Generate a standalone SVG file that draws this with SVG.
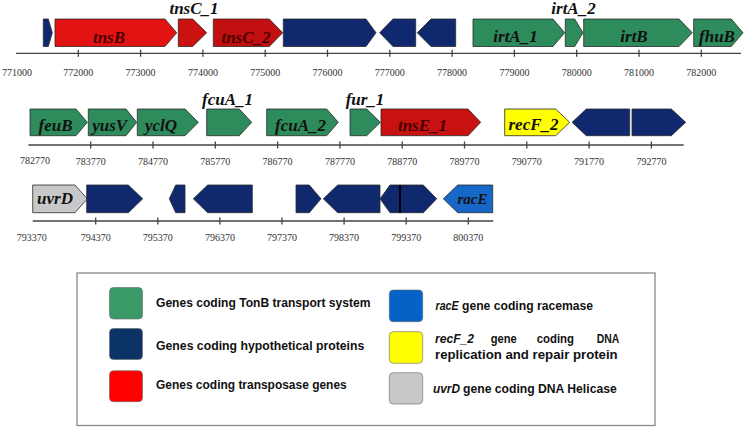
<svg xmlns="http://www.w3.org/2000/svg" width="746" height="428" viewBox="0 0 746 428">
<style>
.g{stroke:#2a2a2a;stroke-width:0.8}
.gr{fill:#2e8b5c}
.nv{fill:#10296e}
.lbl{font-family:"Liberation Serif",serif;font-weight:bold;font-style:italic;font-size:17px;text-anchor:middle;fill:#111}
.rl{fill:#4a0000}
.ax{stroke:#444;stroke-width:1.3;fill:none}
.tk{font-family:"Liberation Serif",serif;font-size:10px;fill:#333;text-anchor:middle}
.lg{font-family:"Liberation Sans",sans-serif;font-weight:bold;font-size:13.5px;fill:#111}
.it{font-style:italic}
.sw{stroke:#666;stroke-width:0.6}
</style>
<rect width="746" height="428" fill="#fff"/>

<g id="axes">
<path class="ax" d="M16,53.3H741M28.4,145H683.7M32.7,221H493.3"/>
<path class="ax" d="M78.3,49.8V56.8M140.6,49.8V56.8M202.9,49.8V56.8M265.2,49.8V56.8M327.5,49.8V56.8M389.8,49.8V56.8M452.1,49.8V56.8M514.4,49.8V56.8M576.7,49.8V56.8M639,49.8V56.8M701.3,49.8V56.8"/>
<path class="ax" d="M90.7,141.5V148.5M153,141.5V148.5M215.3,141.5V148.5M277.6,141.5V148.5M339.9,141.5V148.5M402.2,141.5V148.5M464.5,141.5V148.5M526.8,141.5V148.5M589.1,141.5V148.5M651.4,141.5V148.5"/>
<path class="ax" d="M95.7,217.5V224.5M157.8,217.5V224.5M219.9,217.5V224.5M282,217.5V224.5M344.1,217.5V224.5M406.2,217.5V224.5M468.3,217.5V224.5"/>
<g class="tk">
<text x="17" y="75.5">771000</text><text x="78.3" y="75.5">772000</text><text x="140.6" y="75.5">773000</text><text x="202.9" y="75.5">774000</text><text x="265.2" y="75.5">775000</text><text x="327.5" y="75.5">776000</text><text x="389.8" y="75.5">777000</text><text x="452.1" y="75.5">778000</text><text x="514.4" y="75.5">779000</text><text x="576.7" y="75.5">780000</text><text x="639" y="75.5">781000</text><text x="701.3" y="75.5">782000</text>
<text x="35" y="164">782770</text><text x="90.7" y="165">783770</text><text x="153" y="165">784770</text><text x="215.3" y="165">785770</text><text x="277.6" y="165">786770</text><text x="339.9" y="165">787770</text><text x="402.2" y="165">788770</text><text x="464.5" y="165">789770</text><text x="526.8" y="165">790770</text><text x="589.1" y="165">791770</text><text x="651.4" y="165">792770</text>
<text x="31.7" y="241">793370</text><text x="95.7" y="241">794370</text><text x="157.8" y="241">795370</text><text x="219.9" y="241">796370</text><text x="282" y="241">797370</text><text x="344.1" y="241">798370</text><text x="406.2" y="241">799370</text><text x="468.3" y="241">800370</text>
</g>
</g>

<!-- Row 1 -->
<g id="r1_h1"><polygon class="g nv" points="43.3,19 48.3,19 52.3,32.75 48.3,46.5 43.3,46.5"/></g>
<g id="tnsB"><polygon class="g" fill="#e31313" points="55,19 165,19 176.7,32.75 165,46.5 55,46.5"/><text class="lbl rl" x="109" y="42.5">tnsB</text></g>
<g id="tnsC_1"><polygon class="g" fill="#cc1111" points="178.3,19 192.7,19 206.7,32.75 192.7,46.5 178.3,46.5"/><text class="lbl" x="194" y="14">tnsC_1</text></g>
<g id="tnsC_2"><polygon class="g" fill="#c20f0f" points="213.3,19 269.3,19 282.7,32.75 269.3,46.5 213.3,46.5"/><text class="lbl rl" x="246" y="42.5">tnsC_2</text></g>
<g id="r1_h2"><polygon class="g nv" points="283.3,19 366,19 376,32.75 366,46.5 283.3,46.5"/></g>
<g id="r1_h3"><polygon class="g nv" points="379.7,32.75 393,19 415.7,19 415.7,46.5 393,46.5"/></g>
<g id="r1_h4"><polygon class="g nv" points="417.3,32.75 431,19 455.7,19 455.7,46.5 431,46.5"/></g>
<g id="irtA_1"><polygon class="g gr" points="473,19 553,19 564.7,32.75 553,46.5 473,46.5"/><text class="lbl" x="515.5" y="42">irtA_1</text></g>
<g id="irtA_2"><polygon class="g gr" points="565.3,19 574.7,19 583,32.75 574.7,46.5 565.3,46.5"/><text class="lbl" x="573.5" y="14">irtA_2</text></g>
<g id="irtB"><polygon class="g gr" points="583.7,19 679,19 692.3,32.75 679,46.5 583.7,46.5"/><text class="lbl" x="634" y="42">irtB</text></g>
<g id="fhuB"><polygon class="g gr" points="693.7,19 731.3,19 743,32.75 731.3,46.5 693.7,46.5"/><text class="lbl" x="717" y="42">fhuB</text></g>

<!-- Row 2 -->
<g id="feuB"><polygon class="g gr" points="30,109 76,109 87.3,122.35 76,135.7 30,135.7"/><text class="lbl" x="55.5" y="130.5">feuB</text></g>
<g id="yusV"><polygon class="g gr" points="88.3,109 126,109 136.7,122.35 126,135.7 88.3,135.7"/><text class="lbl" x="109.7" y="130.5">yusV</text></g>
<g id="yclQ"><polygon class="g gr" points="137.3,109 185,109 198.3,122.35 185,135.7 137.3,135.7"/><text class="lbl" x="161" y="130.5">yclQ</text></g>
<g id="fcuA_1"><polygon class="g gr" points="206.7,109 239.3,109 251.7,122.35 239.3,135.7 206.7,135.7"/><text class="lbl" x="227.5" y="105">fcuA_1</text></g>
<g id="fcuA_2"><polygon class="g gr" points="266.7,109 326.7,109 338.3,122.35 326.7,135.7 266.7,135.7"/><text class="lbl" x="300.5" y="130.5">fcuA_2</text></g>
<g id="fur_1"><polygon class="g gr" points="350,109 366.7,109 380.3,122.35 366.7,135.7 350,135.7"/><text class="lbl" x="365" y="105">fur_1</text></g>
<g id="tnsE_1"><polygon class="g" fill="#c81111" points="381,109 468,109 480.7,122.35 468,135.7 381,135.7"/><text class="lbl rl" x="422.5" y="130.5">tnsE_1</text></g>
<g id="recF_2"><polygon class="g" fill="#ffff00" points="504.7,109 555.7,109 569.7,122.35 555.7,135.7 504.7,135.7"/><text class="lbl" x="533.5" y="130">recF_2</text></g>
<g id="r2_h1"><polygon class="g nv" points="572,122.35 586.3,109 629.7,109 629.7,135.7 586.3,135.7"/></g>
<g id="r2_h2"><polygon class="g nv" points="632,109 671.3,109 685.7,122.35 671.3,135.7 632,135.7"/></g>

<!-- Row 3 -->
<g id="uvrD"><polygon class="g" fill="#c8c8c8" points="32.7,185 75,185 87.3,198.85 75,212.7 32.7,212.7"/><text class="lbl" x="55" y="203.5">uvrD</text></g>
<g id="r3_h1"><polygon class="g nv" points="86.7,185 128.3,185 142.7,198.85 128.3,212.7 86.7,212.7"/></g>
<g id="r3_h2"><polygon class="g nv" points="169.3,198.85 175.7,185 185,185 185,212.7 175.7,212.7"/></g>
<g id="r3_h3"><polygon class="g nv" points="193.3,198.85 207.7,185 252.3,185 252.3,212.7 207.7,212.7"/></g>
<g id="r3_h4"><polygon class="g nv" points="296,185 309.3,185 321,198.85 309.3,212.7 296,212.7"/></g>
<g id="r3_h5"><polygon class="g nv" points="323.3,198.85 337.7,185 380,185 380,212.7 337.7,212.7"/></g>
<g id="r3_h6"><polygon class="g nv" points="380,198.85 390,185 400,185 400,212.7 390,212.7"/></g>
<g id="r3_h7"><polygon class="g nv" points="400,185 423.3,185 436.7,198.85 423.3,212.7 400,212.7"/><line x1="400" y1="185" x2="400" y2="212.7" stroke="#000" stroke-width="2"/></g>
<g id="racE"><polygon class="g" fill="#1767c9" points="443.3,198.85 457.7,185 492.7,185 492.7,212.7 457.7,212.7"/><text class="lbl" x="472.5" y="203.5" style="font-size:15px" fill="#0a1a40">racE</text></g>

<!-- Legend -->
<g id="legend">
<rect x="77" y="273" width="578" height="152.5" fill="#fff" stroke="#888" stroke-width="1.3"/>
<g id="leg_green"><rect class="sw" x="109.5" y="287.5" width="33" height="31.5" rx="4" fill="#399a68"/><text class="lg" x="156" y="307" textLength="214.5" lengthAdjust="spacingAndGlyphs">Genes coding TonB transport system</text></g>
<g id="leg_navy"><rect class="sw" x="109.5" y="328.5" width="33" height="31" rx="4" fill="#0b3366"/><text class="lg" x="156" y="349.5" textLength="208.3" lengthAdjust="spacingAndGlyphs">Genes coding hypothetical proteins</text></g>
<g id="leg_red"><rect class="sw" x="109.5" y="370.7" width="33" height="31" rx="4" fill="#ff0000"/><text class="lg" x="156" y="388.5" textLength="190.7" lengthAdjust="spacingAndGlyphs">Genes coding transposase genes</text></g>
<g id="leg_blue"><rect class="sw" x="389.3" y="290" width="33.4" height="31.7" rx="4" fill="#0563c8"/><text class="lg it" x="435.5" y="309.5" textLength="23" lengthAdjust="spacingAndGlyphs">racE</text><text class="lg" x="462" y="309.5" textLength="131" lengthAdjust="spacingAndGlyphs">gene coding racemase</text></g>
<g id="leg_yellow"><rect class="sw" x="389.3" y="331.7" width="33.4" height="31.6" rx="4" fill="#ffff00"/><text class="lg it" x="435" y="343" textLength="39" lengthAdjust="spacingAndGlyphs">recF_2</text><text class="lg" x="490.7" y="343" textLength="26" lengthAdjust="spacingAndGlyphs">gene</text><text class="lg" x="536.7" y="343" textLength="37.3" lengthAdjust="spacingAndGlyphs">coding</text><text class="lg" x="596.7" y="343" textLength="22.6" lengthAdjust="spacingAndGlyphs">DNA</text><text class="lg" x="435" y="359" textLength="182.7" lengthAdjust="spacingAndGlyphs">replication and repair protein</text></g>
<g id="leg_gray"><rect class="sw" x="389.3" y="372.7" width="33.4" height="31.3" rx="4" fill="#c8c8c8"/><text class="lg it" x="433" y="393" textLength="27" lengthAdjust="spacingAndGlyphs">uvrD</text><text class="lg" x="463" y="393" textLength="153.7" lengthAdjust="spacingAndGlyphs">gene coding DNA Helicase</text></g>
</g>
</svg>
